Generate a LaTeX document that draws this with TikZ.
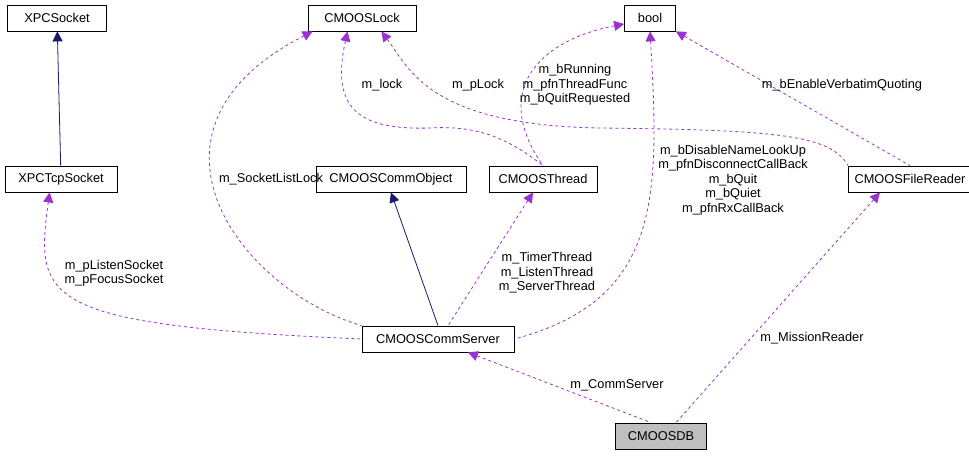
\documentclass[tikz,border=0pt]{standalone}
\usepackage{fontspec}
\setmainfont{Liberation Sans}
\usetikzlibrary{arrows.meta}
\definecolor{usecol}{HTML}{9A32CD}
\definecolor{inhcol}{HTML}{191970}
\begin{document}
\begin{tikzpicture}[x=1pt, y=-1pt, font=\fontsize{12.8}{14.5}\selectfont]
\tikzstyle{cls} = [draw, thick, minimum height=26pt, inner xsep=6pt, anchor=center]
\tikzstyle{use} = [usecol, dashed, thick, {Triangle[length=10pt,width=10pt]}-]
\tikzstyle{inh} = [inhcol, thick, {Triangle[length=10pt,width=10pt]}-]
\tikzstyle{lab} = [align=center, inner sep=0pt]
\useasboundingbox (0,0) rectangle (969,456);

\node[cls, minimum width=99pt] (xpcsock) at (57,18) {XPCSocket};
\node[cls, minimum width=112pt] (xpctcp) at (61,179) {XPCTcpSocket};
\node[cls, minimum width=108pt] (lock) at (362,18) {CMOOSLock};
\node[cls, minimum width=51pt] (bool) at (650,18) {bool};
\node[cls, minimum width=150pt] (commobj) at (391,179) {CMOOSCommObject};
\node[cls, minimum width=108pt] (thread) at (543,179) {CMOOSThread};
\node[cls, minimum width=110pt] (reader) at (910,179) {CMOOSFileReader};
\node[cls, minimum width=152pt] (server) at (438,339) {CMOOSCommServer};
\node[cls, minimum width=91pt, fill=black!25] (db) at (661,436) {CMOOSDB};

% inheritance
\draw[inh] (xpcsock) -- (xpctcp);
\draw[inh] (commobj.south) -- (server.north);

% usage
\draw[use] (xpctcp.south west) ++(45,0) .. controls (35,300) and (40,325) .. (server.west);
\node[lab] (l1) at (114,273) {m\_pListenSocket\\m\_pFocusSocket};
\draw[use] (lock.south west) ++(5,0) .. controls (120,130) and (240,290) .. (server.north west);
\node[lab] (l2) at (271,179) {m\_SocketListLock};
\draw[use] (lock.south west) ++(40,0) .. controls (330,110) and (360,130) .. (430,128) .. controls (480,125) and (510,140) .. (thread.north);
\node[lab] (l3) at (382,85) {m\_lock};
\draw[use] (lock.south east) ++(-35,0) .. controls (410,70) and (430,125) .. (600,128) .. controls (780,130) and (830,135) .. (reader.north west);
\node[lab] (l4) at (478,85) {m\_pLock};
\draw[use] (bool.west) ++(0,6) .. controls (540,40) and (490,90) .. (thread.north);
\node[lab] (l5) at (575,85) {m\_bRunning\\m\_pfnThreadFunc\\m\_bQuitRequested};
\draw[use] (bool.south) .. controls (660,200) and (660,300) .. (server.east);
\node[lab] (l6) at (733,180) {m\_bDisableNameLookUp\\m\_pfnDisconnectCallBack\\m\_bQuit\\m\_bQuiet\\m\_pfnRxCallBack};
\draw[use] (bool.south east) -- (reader.north);
\node[lab] (l7) at (842,85) {m\_bEnableVerbatimQuoting};
\draw[use] (thread.south) ++(-10,0) -- ([xshift=10pt]server.north);
\node[lab] (l8) at (547,273) {m\_TimerThread\\m\_ListenThread\\m\_ServerThread};
\draw[use] (server.south) ++(30,0) -- ([xshift=-10pt]db.north);
\node[lab] (l9) at (617,385) {m\_CommServer};
\draw[use] (reader.south) ++(-30,0) -- ([xshift=15pt]db.north);
\node[lab] (l10) at (812,338) {m\_MissionReader};
\end{tikzpicture}
\end{document}
